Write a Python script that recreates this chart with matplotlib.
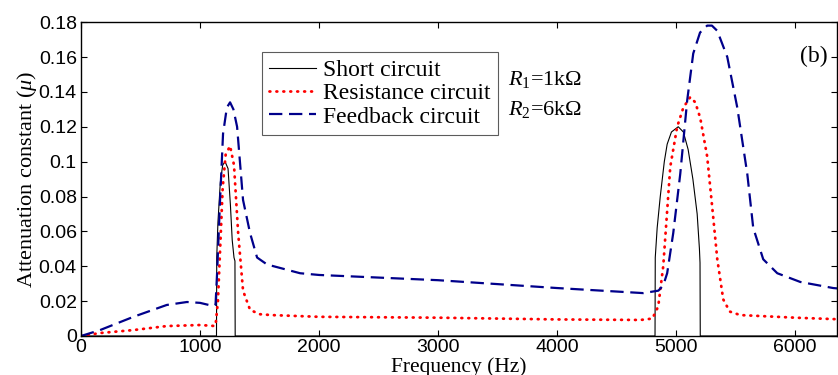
import numpy as np
import matplotlib
matplotlib.use("Agg")
import matplotlib.pyplot as plt
from matplotlib.ticker import FormatStrFormatter

# 短絡回路
short_f = [0, 1138, 1140, 1150, 1170, 1190, 1210, 1235, 1255, 1270, 1285, 1293, 1295,
           4822, 4824, 4840, 4866, 4900, 4924, 4960, 5017, 5060, 5100, 5140, 5176,
           5195, 5200, 5202, 6400]
short_mu = [0, 0, 0.045, 0.065, 0.088, 0.098, 0.100, 0.096, 0.075, 0.055, 0.045, 0.043, 0,
            0, 0.045, 0.062, 0.080, 0.100, 0.110, 0.117, 0.120, 0.117, 0.107, 0.090, 0.070,
            0.050, 0.042, 0, 0]

# 抵抗回路
res_f = [0, 160, 440, 720, 1000, 1110, 1130, 1150, 1168, 1190, 1215, 1252, 1285, 1320,
         1361, 1420, 1500, 1600, 2000, 3000, 4000, 4700, 4800, 4849, 4891, 4950, 5008,
         5060, 5118, 5160, 5202, 5260, 5311, 5345, 5395, 5450, 5538, 6000, 6400]
res_mu = [0, 0.0017, 0.0034, 0.0057, 0.0063, 0.0058, 0.006, 0.020, 0.049, 0.085, 0.104,
          0.109, 0.098, 0.059, 0.026, 0.015, 0.0125, 0.012, 0.011, 0.0105, 0.0095, 0.0092,
          0.010, 0.017, 0.040, 0.097, 0.120, 0.131, 0.137, 0.134, 0.125, 0.103, 0.068,
          0.044, 0.021, 0.014, 0.012, 0.0105, 0.0095]

# 帰還回路
fb_f = [0, 160, 440, 720, 890, 1000, 1110, 1130, 1143, 1168, 1193, 1225, 1252, 1280,
        1311, 1361, 1420, 1479, 1563, 1840, 2000, 3000, 4000, 4723, 4850, 4891, 4924,
        4975, 5034, 5092, 5143, 5200, 5260, 5300, 5345, 5429, 5513, 5597, 5647, 5731,
        5849, 6042, 6319, 6400]
fb_mu = [0, 0.0034, 0.011, 0.0178, 0.0195, 0.019, 0.0172, 0.018, 0.036, 0.078, 0.116,
         0.131, 0.134, 0.130, 0.120, 0.078, 0.059, 0.045, 0.041, 0.036, 0.035, 0.032,
         0.0275, 0.0246, 0.026, 0.029, 0.036, 0.059, 0.093, 0.135, 0.162, 0.174, 0.178,
         0.178, 0.175, 0.160, 0.131, 0.093, 0.062, 0.044, 0.036, 0.031, 0.0275, 0.027]

x_ticks = [0, 1000, 2000, 3000, 4000, 5000, 6000]
y_ticks = [0, 0.02, 0.04, 0.06, 0.08, 0.1, 0.12, 0.14, 0.16, 0.18]

serif = ['Liberation Serif', 'DejaVu Serif']
sans = ['Liberation Sans', 'DejaVu Sans']
plt.rcParams['mathtext.fontset'] = 'custom'
plt.rcParams['mathtext.rm'] = 'Liberation Serif'
plt.rcParams['mathtext.it'] = 'Liberation Serif:italic'

fig = plt.figure(figsize=(8.38, 3.75), dpi=100)
ax = fig.add_axes([0.0967, 0.104, 0.902, 0.837])

ax.plot(short_f, short_mu, color='black', lw=0.8, label='Short circuit')
ax.plot(res_f, res_mu, color='red', lw=2.0, linestyle=(0, (0.3, 2.2)),
        dash_capstyle='round', label='Resistance circuit')
ax.plot(fb_f, fb_mu, color='#00008B', lw=1.6, linestyle=(0, (6, 3)),
        label='Feedback circuit')

ax.set_xlim(0, 6350)
ax.set_ylim(0, 0.18)
ax.set_xticks(x_ticks)
ax.set_yticks(y_ticks)
ax.yaxis.set_major_formatter(FormatStrFormatter('%g'))
ax.tick_params(direction='in', top=True, right=True, length=4, labelsize=14)
for lab in ax.get_xticklabels() + ax.get_yticklabels():
    lab.set_family(sans)
ax.tick_params(axis='x', pad=2)
ax.tick_params(axis='y', pad=3)
for s in ax.spines.values():
    s.set_linewidth(1.0)

ax.set_xlabel('Frequency (Hz)', family=serif, fontsize=15.5, labelpad=1)
ax.set_ylabel(r'Attenuation constant ($\mu$)', family=serif, fontsize=16, labelpad=0)

leg = ax.legend(loc='upper left', bbox_to_anchor=(0.2394, 0.904),
                prop={'family': serif, 'size': 17},
                frameon=True, fancybox=False, edgecolor='#333333', handlelength=2.0,
                handletextpad=0.3, borderpad=0.3, labelspacing=0.08, borderaxespad=0)
leg.get_frame().set_linewidth(0.8)

ax.text(0.565, 0.80, r'$R_1$=1k$\Omega$', transform=ax.transAxes, family=serif,
        fontsize=16, va='baseline')
ax.text(0.565, 0.704, r'$R_2$=6k$\Omega$', transform=ax.transAxes, family=serif,
        fontsize=16, va='baseline')
ax.text(0.951, 0.873, '(b)', transform=ax.transAxes, family=serif, fontsize=17,
        va='baseline')

fig.savefig('out.png', dpi=100)
